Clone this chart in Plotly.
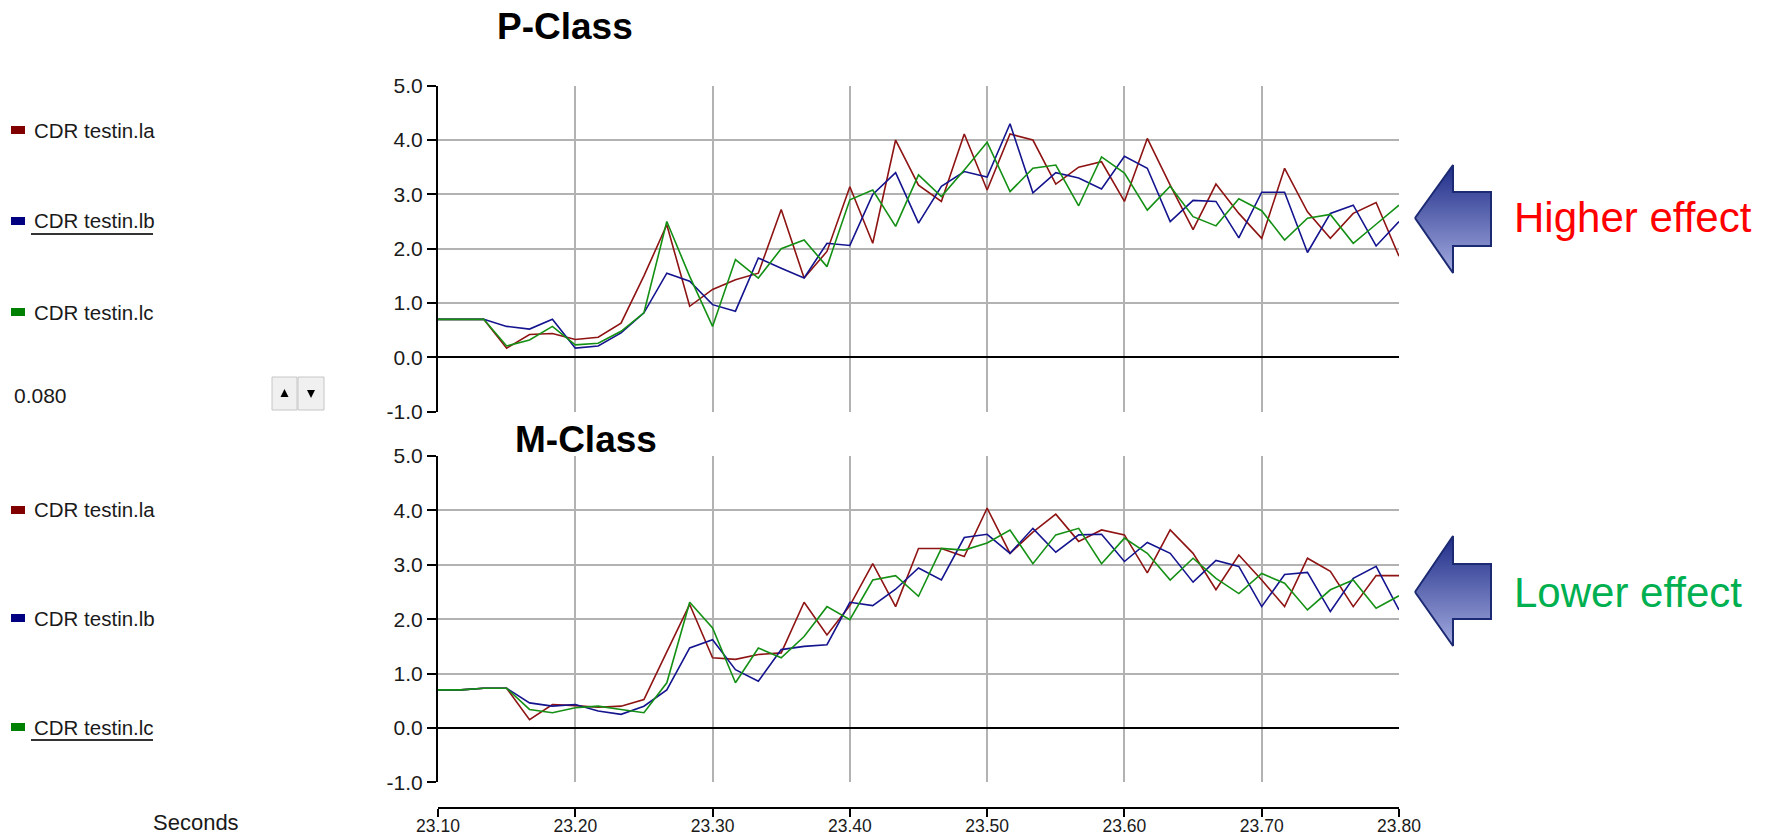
import plotly.graph_objects as go

W, H = 1768, 840

# ---------------- data ----------------
t_start = 23.10          # seconds
t_step = 1.0 / 60.0      # sample interval
n_samples = 43
times = [round(t_start + k * t_step, 5) for k in range(n_samples)]

# P-Class
p_la = [0.70, 0.70, 0.70, 0.17, 0.42, 0.44, 0.33, 0.37, 0.63, 1.50,
        2.44, 0.94, 1.25, 1.43, 1.55, 2.72, 1.46, 1.95, 3.14, 2.10,
        4.00, 3.17, 2.87, 4.11, 3.08, 4.11, 4.00, 3.19, 3.50, 3.60,
        2.87, 4.03, 3.17, 2.35, 3.19, 2.65, 2.19, 3.48, 2.68, 2.19,
        2.65, 2.85, 1.86]
p_lb = [0.70, 0.70, 0.70, 0.57, 0.52, 0.70, 0.17, 0.21, 0.45, 0.82,
        1.55, 1.40, 0.97, 0.85, 1.83, 1.64, 1.46, 2.10, 2.06, 3.00,
        3.40, 2.47, 3.15, 3.42, 3.32, 4.30, 3.03, 3.40, 3.30, 3.10,
        3.70, 3.48, 2.50, 2.89, 2.87, 2.20, 3.04, 3.04, 1.93, 2.65,
        2.80, 2.05, 2.50]
p_lc = [0.70, 0.70, 0.70, 0.21, 0.32, 0.57, 0.23, 0.26, 0.48, 0.82,
        2.50, 1.49, 0.57, 1.80, 1.46, 2.00, 2.16, 1.67, 2.90, 3.08,
        2.41, 3.36, 2.96, 3.45, 3.96, 3.05, 3.48, 3.54, 2.79, 3.69,
        3.39, 2.71, 3.15, 2.59, 2.42, 2.92, 2.70, 2.16, 2.56, 2.63,
        2.10, 2.45, 2.80]

# M-Class
m_la = [0.70, 0.70, 0.73, 0.73, 0.15, 0.43, 0.41, 0.38, 0.40, 0.52,
        1.40, 2.27, 1.29, 1.26, 1.35, 1.38, 2.31, 1.71, 2.25, 3.02,
        2.23, 3.30, 3.30, 3.15, 4.04, 3.21, 3.60, 3.93, 3.43, 3.64,
        3.55, 2.85, 3.64, 3.21, 2.54, 3.18, 2.72, 2.23, 3.12, 2.88,
        2.23, 2.80, 2.80]
m_lb = [0.70, 0.70, 0.73, 0.73, 0.46, 0.40, 0.43, 0.31, 0.25, 0.40,
        0.70, 1.47, 1.62, 1.07, 0.86, 1.44, 1.50, 1.53, 2.31, 2.25,
        2.55, 2.94, 2.72, 3.50, 3.56, 3.21, 3.67, 3.23, 3.55, 3.56,
        3.06, 3.41, 3.21, 2.68, 3.08, 2.97, 2.23, 2.82, 2.86, 2.14,
        2.75, 2.97, 2.17]
m_lc = [0.70, 0.70, 0.73, 0.73, 0.34, 0.28, 0.37, 0.40, 0.34, 0.28,
        0.83, 2.31, 1.84, 0.83, 1.47, 1.29, 1.68, 2.23, 1.99, 2.72,
        2.80, 2.42, 3.30, 3.27, 3.40, 3.64, 3.02, 3.55, 3.67, 3.02,
        3.49, 3.21, 2.72, 3.12, 2.75, 2.47, 2.84, 2.66, 2.17, 2.54,
        2.72, 2.20, 2.43]

series_names = ["CDR testin.la", "CDR testin.lb", "CDR testin.lc"]
line_colors = ["#8e1414", "#14148f", "#149014"]
swatch_colors = ["#800000", "#000080", "#008000"]

x_tick_vals = [23.10, 23.20, 23.30, 23.40, 23.50, 23.60, 23.70, 23.80]
x_tick_text = ["23.10", "23.20", "23.30", "23.40", "23.50", "23.60", "23.70", "23.80"]
y_tick_vals = [-1, 0, 1, 2, 3, 4, 5]
y_tick_text = ["-1.0", "0.0", "1.0", "2.0", "3.0", "4.0", "5.0"]

panel_titles = ["P-Class", "M-Class"]
callouts = ["Higher effect", "Lower effect"]
callout_colors = ["#ff0000", "#00b050"]
spin_value = "0.080"
x_title = "Seconds"

# ---------------- helpers ----------------
FONT = "Liberation Sans, Arial, sans-serif"
GRID = "#b2b2b2"
TEXT = "#1a1a1a"


def fx(px):
    return px / W


def fy(py):
    return 1 - py / H


PLOT_L, PLOT_R = 438, 1399
TOP_T, TOP_B = 85.7, 411.7
BOT_T, BOT_B = 456.0, 782.3
XAXIS_Y = 808

fig = go.Figure()

for vals, name, col in zip([p_la, p_lb, p_lc], series_names, line_colors):
    fig.add_trace(go.Scatter(x=times, y=vals, mode="lines", name=name,
                             line=dict(color=col, width=1.6),
                             xaxis="x", yaxis="y", showlegend=False))
for vals, name, col in zip([m_la, m_lb, m_lc], series_names, line_colors):
    fig.add_trace(go.Scatter(x=times, y=vals, mode="lines", name=name,
                             line=dict(color=col, width=1.6),
                             xaxis="x2", yaxis="y2", showlegend=False))

# carrier trace so the free bottom time axis is rendered
fig.add_trace(go.Scatter(x=[x_tick_vals[0], x_tick_vals[-1]], y=[None, None],
                         mode="lines", xaxis="x3", yaxis="y2",
                         showlegend=False, hoverinfo="skip"))

# arrows (gradient filled polygons on a full-figure pixel overlay)
arrow_specs = [
    dict(tip=(1415, 218), head=(1453, 165, 273), shaft=(192, 246), back=1491),
    dict(tip=(1415, 592), head=(1453, 536, 646), shaft=(564, 619), back=1491),
]
for a in arrow_specs:
    tx, ty = a["tip"]
    hx, htop, hbot = a["head"]
    st, sb = a["shaft"]
    bx = a["back"]
    xs = [tx, hx, hx, bx, bx, hx, hx, tx]
    ys = [ty, htop, st, st, sb, sb, hbot, ty]
    fig.add_trace(go.Scatter(
        x=xs, y=ys, mode="lines", fill="toself",
        line=dict(color="#1b2a72", width=2),
        fillgradient=dict(type="vertical",
                          colorscale=[[0, "#1f2d88"], [1, "#a3abdf"]],
                          start=htop, stop=hbot),
        xaxis="x4", yaxis="y4", showlegend=False, hoverinfo="skip"))

common_y = dict(range=[-1, 5], tickvals=y_tick_vals, ticktext=y_tick_text,
                showline=True, linecolor="black", linewidth=2,
                ticks="outside", ticklen=9, tickwidth=1.5, tickcolor="black",
                showgrid=True, gridcolor=GRID, gridwidth=2,
                zeroline=True, zerolinecolor="black", zerolinewidth=2,
                tickfont=dict(family=FONT, size=21, color=TEXT),
                ticklabelstandoff=0, fixedrange=True, automargin=False)
common_x = dict(range=[x_tick_vals[0], x_tick_vals[-1]],
                tickvals=x_tick_vals[:-1], showticklabels=False, ticks="",
                showgrid=True, gridcolor=GRID, gridwidth=2,
                zeroline=False, showline=False, fixedrange=True,
                automargin=False)

fig.update_layout(
    template="none",
    width=W, height=H,
    autosize=False,
    margin=dict(l=0, r=0, t=0, b=0, pad=0, autoexpand=False),
    paper_bgcolor="white", plot_bgcolor="rgba(0,0,0,0)",
    font=dict(family=FONT, color=TEXT),
    showlegend=False,
    xaxis=dict(domain=[fx(PLOT_L), fx(PLOT_R)], anchor="y", **common_x),
    yaxis=dict(domain=[fy(TOP_B), fy(TOP_T)], anchor="x", **common_y),
    xaxis2=dict(domain=[fx(PLOT_L), fx(PLOT_R)], anchor="y2", **common_x),
    yaxis2=dict(domain=[fy(BOT_B), fy(BOT_T)], anchor="x2", **common_y),
    xaxis3=dict(overlaying="x2", anchor="free", position=fy(XAXIS_Y),
                range=[x_tick_vals[0], x_tick_vals[-1]],
                tickvals=x_tick_vals, ticktext=x_tick_text,
                showline=True, linecolor="black", linewidth=2,
                ticks="outside", ticklen=8, tickwidth=1.5, tickcolor="black",
                showgrid=False, zeroline=False,
                tickfont=dict(family=FONT, size=17.5, color=TEXT),
                ticklabelstandoff=-6, fixedrange=True, automargin=False),
    xaxis4=dict(domain=[0, 1], anchor="y4", range=[0, W], visible=False,
                fixedrange=True, automargin=False),
    yaxis4=dict(domain=[0, 1], anchor="x4", range=[H, 0], visible=False,
                fixedrange=True, automargin=False),
)

shapes = []
annotations = []

# panel titles
for title, (cx, cy) in zip(panel_titles, [(565, 26), (586, 439)]):
    annotations.append(dict(text="<b>%s</b>" % title, x=fx(cx), y=fy(cy),
                            xref="paper", yref="paper", showarrow=False,
                            xanchor="center", yanchor="middle",
                            font=dict(family=FONT, size=37, color="black")))

# left-hand legends for each panel
legend_rows = [[130, 221, 312], [510, 618, 727]]
underlined = [1, 2]
for rows, ul in zip(legend_rows, underlined):
    for i, (yc, name, sw) in enumerate(zip(rows, series_names, swatch_colors)):
        shapes.append(dict(type="rect", xref="paper", yref="paper",
                           x0=fx(11), x1=fx(25), y0=fy(yc + 4), y1=fy(yc - 4),
                           fillcolor=sw, line=dict(width=0)))
        annotations.append(dict(text=name, x=fx(32), y=fy(yc), xref="paper",
                                yref="paper", showarrow=False,
                                xanchor="left", yanchor="middle",
                                font=dict(family=FONT, size=20.5, color=TEXT)))
        if i == ul:
            shapes.append(dict(type="line", xref="paper", yref="paper",
                               x0=fx(31), x1=fx(153), y0=fy(yc + 13),
                               y1=fy(yc + 13),
                               line=dict(color="#333333", width=2)))

# spin value + buttons
annotations.append(dict(text=spin_value, x=fx(12), y=fy(395), xref="paper",
                        yref="paper", showarrow=False, xanchor="left",
                        yanchor="middle",
                        font=dict(family=FONT, size=21, color=TEXT)))
for (x0, x1) in [(272, 297), (298, 324)]:
    shapes.append(dict(type="rect", xref="paper", yref="paper",
                       x0=fx(x0), x1=fx(x1), y0=fy(410), y1=fy(377),
                       fillcolor="#f0f0f0", line=dict(color="#c6c6c6", width=1)))
shapes.append(dict(type="path", xref="paper", yref="paper",
                   path="M %f,%f L %f,%f L %f,%f Z" % (
                       fx(284.5), fy(389), fx(280.5), fy(397), fx(288.5), fy(397)),
                   fillcolor="black", line=dict(width=0)))
shapes.append(dict(type="path", xref="paper", yref="paper",
                   path="M %f,%f L %f,%f L %f,%f Z" % (
                       fx(307), fy(390), fx(315), fy(390), fx(311), fy(398)),
                   fillcolor="black", line=dict(width=0)))

# x title
annotations.append(dict(text=x_title, x=fx(151), y=fy(822), xref="paper",
                        yref="paper", showarrow=False, xanchor="left",
                        yanchor="middle",
                        font=dict(family=FONT, size=22, color=TEXT)))

# call-out texts
for txt, col, yc in zip(callouts, callout_colors, [218, 592]):
    annotations.append(dict(text=txt, x=fx(1512), y=fy(yc), xref="paper",
                            yref="paper", showarrow=False, xanchor="left",
                            yanchor="middle",
                            font=dict(family=FONT, size=42, color=col)))

fig.update_layout(shapes=shapes, annotations=annotations)

# remove the browser's default page margin so the figure fills the window
fig.write_html(
    "out.html",
    config={"displayModeBar": False},
    post_script="document.body.style.margin='0';"
                "document.body.style.overflow='hidden';"
                "document.documentElement.style.overflow='hidden';",
)
